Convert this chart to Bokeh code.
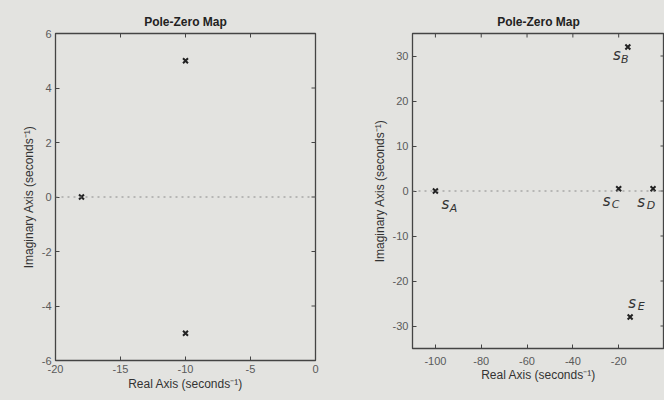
import math
from bokeh.plotting import figure
from bokeh.layouts import row
from bokeh.models import Span, FixedTicker, ColumnDataSource, PrintfTickFormatter
from bokeh.core.properties import value
from bokeh.embed import file_html
from bokeh.resources import INLINE

# ---- data ----
left_pole_re = [-18, -10, -10]
left_pole_im = [0, 5, -5]
left_xlim = (-20, 0)
left_ylim = (-6, 6)
left_xticks = [-20, -15, -10, -5, 0]
left_yticks = [-6, -4, -2, 0, 2, 4, 6]

right_names = ["A", "B", "C", "D", "E"]
right_pole_re = [-100, -16, -20, -5, -15]
right_pole_im = [0, 32, 0.5, 0.5, -28]
right_xlim = (-110, 0)
right_ylim = (-35, 35)
right_xticks = [-100, -80, -60, -40, -20]
right_yticks = [-30, -20, -10, 0, 10, 20, 30]

# label offsets (pixels) for the italic "s" and its subscript
s_dx = [10, -11, -12, -12, 2]
s_dy = [13, 8, 12, 13, -14]
sub_dx = [18, -3, -3, -2, 11]
sub_dy = [17, 12, 16, 17, -11]

BG = "#e3e3e0"
FONT = "Liberation Sans"
EDGE = "#444444"


def style(p, xticks, yticks, xlim, ylim):
    p.background_fill_color = BG
    p.border_fill_color = BG
    p.outline_line_color = EDGE
    p.outline_line_width = 1.3
    p.grid.visible = False
    p.title.text_font = FONT
    p.title.text_font_size = "12px"
    p.title.text_font_style = "bold"
    p.title.text_color = "#222222"
    p.title.align = "center"
    for ax in (p.xaxis[0], p.yaxis[0]):
        ax.axis_label_text_font = FONT
        ax.axis_label_text_font_size = "12px"
        ax.axis_label_text_font_style = "normal"
        ax.axis_label_text_color = "#333333"
        ax.axis_label_standoff = 3
        ax.major_label_text_font = FONT
        ax.major_label_text_font_size = "11px"
        ax.major_label_text_color = "#5a5a5a"
        ax.major_label_standoff = 4
        ax.major_tick_in = 4
        ax.major_tick_out = 0
        ax.minor_tick_line_color = None
        ax.axis_line_color = EDGE
        ax.major_tick_line_color = EDGE
        ax.formatter = PrintfTickFormatter(format="%d")
    p.xaxis[0].ticker = FixedTicker(ticks=xticks)
    p.yaxis[0].ticker = FixedTicker(ticks=yticks)
    # inward ticks on the top and right edges of the box (clipped to the frame)
    p.scatter(xticks, [ylim[1]] * len(xticks), marker="dash", angle=math.pi / 2,
              size=8, line_color=EDGE, line_width=1)
    p.scatter([xlim[1]] * len(yticks), yticks, marker="dash",
              size=8, line_color=EDGE, line_width=1)
    p.add_layout(Span(location=0, dimension="width", line_color="#8a8a8a",
                      line_dash="2 4", line_width=1))


# ---- left plot ----
p1 = figure(width=335, height=400, x_range=left_xlim, y_range=left_ylim,
            title="Pole-Zero Map", output_backend="svg", toolbar_location=None,
            min_border_left=55, min_border_right=20, min_border_top=33, min_border_bottom=40,
            x_axis_label="Real Axis (seconds⁻¹)", y_axis_label="Imaginary Axis (seconds⁻¹)")
style(p1, left_xticks, left_yticks, left_xlim, left_ylim)
p1.xaxis[0].major_label_standoff = 4
p1.xaxis[0].axis_label_standoff = 1
p1.scatter(left_pole_re, left_pole_im, marker="x", size=7, line_color="#222222", line_width=2)

# ---- right plot ----
p2 = figure(width=329, height=388, x_range=right_xlim, y_range=right_ylim,
            title="Pole-Zero Map", output_backend="svg", toolbar_location=None,
            min_border_left=77, min_border_right=0, min_border_top=32, min_border_bottom=40,
            x_axis_label="Real Axis (seconds⁻¹)", y_axis_label="Imaginary Axis (seconds⁻¹)")
style(p2, right_xticks, right_yticks, right_xlim, right_ylim)
p2.xaxis[0].major_label_standoff = 8
p2.xaxis[0].axis_label_standoff = 0
src = ColumnDataSource(dict(x=right_pole_re, y=right_pole_im,
                            s=["s"] * len(right_names), sub=right_names,
                            sdx=s_dx, sdy=s_dy, bdx=sub_dx, bdy=sub_dy))
p2.scatter("x", "y", source=src, marker="x", size=7, line_color="#222222", line_width=2)
p2.text("x", "y", text="s", source=src, x_offset="sdx", y_offset="sdy",
        text_font=value("DejaVu Sans"), text_font_style="italic", text_font_size="15px",
        text_color="#333333", text_align="center", text_baseline="middle")
p2.text("x", "y", text="sub", source=src, x_offset="bdx", y_offset="bdy",
        text_font=value("DejaVu Sans"), text_font_style="italic", text_font_size="11px",
        text_color="#333333", text_align="center", text_baseline="middle")

layout = row(p1, p2)
layout.styles = {"background-color": BG}
open("out.html", "w").write(file_html(layout, INLINE))
